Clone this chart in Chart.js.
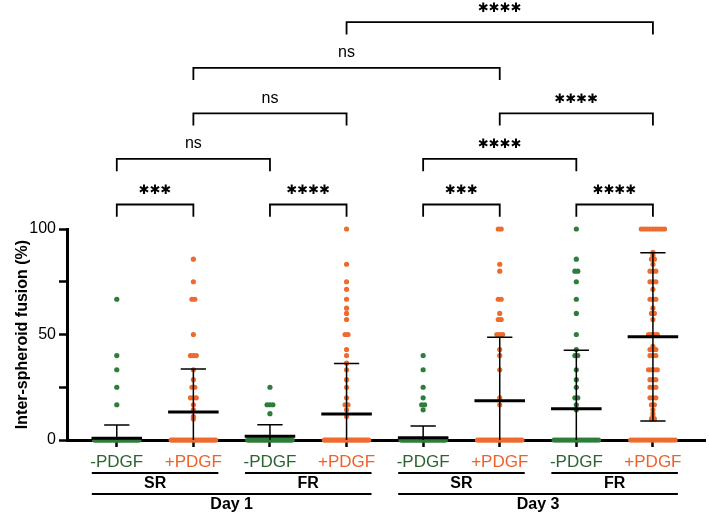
<!DOCTYPE html>
<html>
<head>
<meta charset="utf-8">
<script src="https://cdn.jsdelivr.net/npm/chart.js@4"></script>
<style>
  html, body { margin: 0; padding: 0; background: #fff; }
  #wrap { width: 709px; height: 518px; }
</style>
</head>
<body>
<div id="wrap"><canvas id="chart"></canvas></div>
<script>
// group labels along the x axis
const groupLabels = ['-PDGF', '+PDGF', '-PDGF', '+PDGF', '-PDGF', '+PDGF', '-PDGF', '+PDGF'];
const subgroupLabels = ['SR', 'FR', 'SR', 'FR'];
const dayLabels = ['Day 1', 'Day 3'];

// non-zero fusion values (%) per group
const day1SRminus = [16.7, 25, 33.3, 40, 66.7];
const day1SRplus = [10, 11.1, 14.3, 16.7, 20, 20, 20, 25, 25, 28.6, 33.3, 40, 40, 40, 50, 66.7, 66.7, 75, 85.7];
const day1FRminus = [12.5, 16.7, 16.7, 16.7, 25];
const day1FRplus = [11.1, 14.3, 16.7, 16.7, 20, 25, 28.6, 33.3, 36.4, 40, 42.9, 50, 50, 57.1, 60, 62.5, 66.7, 71.4, 75, 83.3, 100];
const day3SRminus = [14.3, 16.7, 16.7, 20, 25, 33.3, 40];
const day3SRplus = [16.7, 20, 33.3, 40, 42.9, 50, 50, 50, 57.1, 57.1, 60, 66.7, 66.7, 80, 83.3, 100, 100];
const day3FRminus = [14.3, 16.7, 20, 20, 25, 28.6, 33.3, 40, 40, 42.9, 50, 60, 66.7, 75, 80, 80, 85.7, 100];
const day3FRplus = [10, 10, 11.1, 12.5, 14.3, 16.7, 16.7, 20, 20, 20, 25, 25, 25, 28.6, 28.6, 28.6,
  33.3, 33.3, 33.3, 33.3, 40, 40, 40, 42.9, 42.9, 42.9, 44.4, 50, 50, 50, 50, 57.1, 60, 60, 62.5,
  66.7, 66.7, 66.7, 71.4, 75, 75, 75, 80, 80, 80, 83.3, 85.7, 85.7, 87.5, 88.9,
  100, 100, 100, 100, 100, 100, 100, 100, 100];
// spheroids with no fusion (the band on the axis)
const zeroCounts = [30, 26, 30, 28, 30, 26, 22, 20];

// mean and SD drawn as bars
const means = [0.8, 13.3, 1.8, 12.3, 1.1, 18.6, 14.8, 48.9];
const sds = [6.3, 20.4, 5.4, 23.9, 5.5, 30.1, 27.7, 39.9];

const yTicks = [0, 25, 50, 75, 100];
const yTickLabels = ['0', '', '50', '', '100'];

// significance brackets
const bracketFrom = [1, 3, 5, 7, 1, 5, 2, 6, 2, 4];
const bracketTo = [2, 4, 6, 8, 3, 7, 4, 8, 6, 8];
const bracketLevel = [0, 0, 0, 0, 1, 1, 2, 2, 3, 4];
const bracketText = ['***', '****', '***', '****', 'ns', '****', 'ns', '****', 'ns', '****'];

const greenDot = '#2e7d3a';
const orangeDot = '#ee6b2f';
const greenText = '#2d6330';
const orangeText = '#ef6128';

const groupValues = [day1SRminus, day1SRplus, day1FRminus, day1FRplus,
  day3SRminus, day3SRplus, day3FRminus, day3FRplus];

// spread equal values sideways like a scatter dot plot
function spreadPoints(values, zeros, center) {
  const counts = new Map();
  counts.set(0, zeros);
  values.forEach(v => counts.set(v, (counts.get(v) || 0) + 1));
  const pts = [];
  counts.forEach((n, v) => {
    const step = n > 1 ? Math.min(0.038, 0.58 / (n - 1)) : 0;
    for (let k = 0; k < n; k++) {
      pts.push({ x: center + (k - (n - 1) / 2) * step, y: v });
    }
  });
  return pts;
}

const datasets = groupValues.map((vals, i) => ({
  data: spreadPoints(vals, zeroCounts[i], i + 1),
  backgroundColor: i % 2 === 0 ? greenDot : orangeDot,
  borderWidth: 0,
  pointRadius: 2.6,
  clip: false
}));

const FONT = "'Liberation Sans', Arial, sans-serif";
Chart.defaults.font.family = FONT;
Chart.defaults.color = '#000';

const annotations = {
  id: 'annotations',
  afterDatasetsDraw(chart) {
    const ctx = chart.ctx;
    const xs = chart.scales.x;
    const ys = chart.scales.y;
    const unit = xs.getPixelForValue(2) - xs.getPixelForValue(1);
    ctx.save();
    ctx.strokeStyle = '#000';
    ctx.fillStyle = '#000';
    ctx.lineCap = 'butt';

    // mean +/- SD
    means.forEach((m, i) => {
      const cx = xs.getPixelForValue(i + 1);
      const yTop = ys.getPixelForValue(m + sds[i]);
      const yBot = ys.getPixelForValue(Math.max(0, m - sds[i]));
      const yMean = ys.getPixelForValue(m);
      ctx.lineWidth = 1.5;
      ctx.beginPath();
      ctx.moveTo(cx, yTop); ctx.lineTo(cx, yBot);
      ctx.moveTo(cx - unit * 0.165, yTop); ctx.lineTo(cx + unit * 0.165, yTop);
      if (m - sds[i] > 0) {
        ctx.moveTo(cx - unit * 0.165, yBot); ctx.lineTo(cx + unit * 0.165, yBot);
      }
      ctx.stroke();
      ctx.lineWidth = 3;
      ctx.beginPath();
      ctx.moveTo(cx - unit * 0.33, yMean); ctx.lineTo(cx + unit * 0.33, yMean);
      ctx.stroke();
    });

    // brackets
    ctx.lineWidth = 1.8;
    ctx.textAlign = 'center';
    ctx.textBaseline = 'middle';
    bracketFrom.forEach((a, i) => {
      const x1 = xs.getPixelForValue(a);
      const x2 = xs.getPixelForValue(bracketTo[i]);
      const yv = 111.6 + bracketLevel[i] * 21.6;
      const yh = ys.getPixelForValue(yv);
      const yl = ys.getPixelForValue(yv - 5.8);
      ctx.beginPath();
      ctx.moveTo(x1, yl); ctx.lineTo(x1, yh); ctx.lineTo(x2, yh); ctx.lineTo(x2, yl);
      ctx.stroke();
      const tx = (x1 + x2) / 2;
      if (bracketText[i] === 'ns') {
        ctx.font = '16px ' + FONT;
        ctx.fillText('ns', tx, yh - 15);
      } else {
        ctx.font = 'bold 13px DejaVu Sans';
        ctx.fillText(bracketText[i].replace(/\*/g, '\u2731'), tx, yh - 14);
      }
    });

    // subgroup and day lines under the axis
    const base = chart.chartArea.bottom;
    const half = unit * 0.326;
    ctx.lineWidth = 2;
    ctx.font = 'bold 16px ' + FONT;
    subgroupLabels.forEach((lab, j) => {
      const xa = xs.getPixelForValue(2 * j + 1) - half;
      const xb = xs.getPixelForValue(2 * j + 2) + half;
      ctx.beginPath();
      ctx.moveTo(xa, base + 33); ctx.lineTo(xb, base + 33);
      ctx.stroke();
      ctx.fillText(lab, (xa + xb) / 2, base + 44);
    });
    dayLabels.forEach((lab, j) => {
      const xa = xs.getPixelForValue(4 * j + 1) - half;
      const xb = xs.getPixelForValue(4 * j + 4) + half;
      ctx.beginPath();
      ctx.moveTo(xa, base + 54); ctx.lineTo(xb, base + 54);
      ctx.stroke();
      ctx.fillText(lab, (xa + xb) / 2, base + 65);
    });
    ctx.restore();
  }
};

new Chart(document.getElementById('chart'), {
  type: 'scatter',
  data: { datasets },
  options: {
    responsive: true,
    maintainAspectRatio: false,
    animation: false,
    events: [],
    layout: { padding: { top: 229, right: 4, left: 0, bottom: 0 } },
    plugins: { legend: { display: false }, tooltip: { enabled: false } },
    scales: {
      x: {
        type: 'linear',
        min: 0.35,
        max: 8.68,
        afterBuildTicks: s => { s.ticks = groupLabels.map((_, i) => ({ value: i + 1 })); },
        afterFit: s => { s.height = 78; },
        grid: { drawOnChartArea: false, drawTicks: true, tickLength: 7, tickWidth: 2.5, tickColor: '#000' },
        border: { display: true, color: '#000', width: 3 },
        ticks: {
          autoSkip: false,
          maxRotation: 0,
          padding: 5,
          font: { size: 17 },
          color: c => (c.index % 2 === 0 ? greenText : orangeText),
          callback: v => groupLabels[Math.round(v) - 1]
        }
      },
      y: {
        min: 0,
        max: 100,
        afterBuildTicks: s => { s.ticks = yTicks.map(v => ({ value: v })); },
        afterFit: s => { s.width = 67; },
        grid: { drawOnChartArea: false, drawTicks: true, tickLength: 8, tickWidth: 2.5, tickColor: '#000' },
        border: { display: true, color: '#000', width: 3 },
        ticks: {
          padding: 3,
          font: { size: 16 },
          color: '#000',
          callback: (v, i) => yTickLabels[i]
        },
        title: {
          display: true,
          text: 'Inter-spheroid fusion (%)',
          font: { size: 16, weight: 'bold' },
          color: '#000',
          padding: { top: 13, bottom: 0 }
        }
      }
    }
  },
  plugins: [annotations]
});
</script>
</body>
</html>
